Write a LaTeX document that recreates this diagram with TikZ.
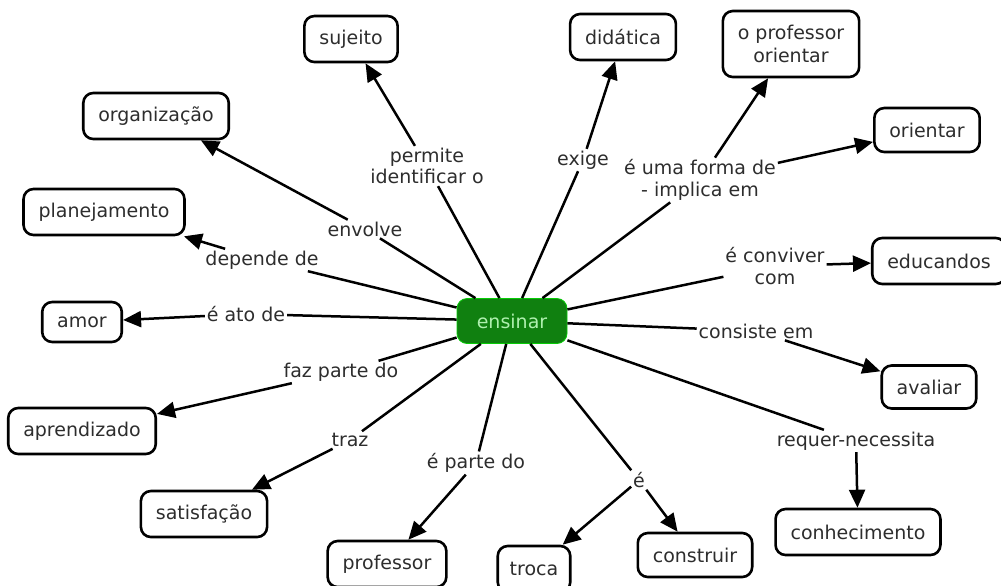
\documentclass[tikz,border=0pt]{standalone}
\usepackage{fontspec}
\setmainfont{DejaVu Sans}
\usetikzlibrary{arrows.meta, positioning}
\definecolor{mapGreen}{RGB}{16,128,16}
\definecolor{mapPale}{RGB}{175,240,175}
\definecolor{mapText}{RGB}{45,45,45}
\tikzset{
    concept/.style={draw, line width=1.3pt, rounded corners=5pt, inner xsep=7.5pt,
        minimum height=23pt, text=mapText, align=center},
    mainConcept/.style={draw=green!60!mapGreen, fill=mapGreen, rounded corners=5pt,
        minimum width=55pt, minimum height=22.5pt, text=mapPale},
    linkText/.style={inner sep=0.8pt, text=mapText, align=center},
    linkLine/.style={line width=1.25pt},
    linkArrow/.style={line width=1.25pt, -{Triangle[length=9pt, width=8pt]}},
}

\begin{document}
\begin{tikzpicture}[x=0.5pt, y=-0.5pt, font=\fontsize{9.5}{10.8}\selectfont]

    \useasboundingbox (0,0) rectangle (1001,585);

    % CENTRE
    \node[mainConcept] (ensinar) at (512,321) {ensinar};

    % CONCEPTS
    \node[concept] (sujeito) at (351,39) {sujeito};
    \node[concept] (didatica) at (623,37) {didática};
    \node[concept, minimum height=33pt] (profOrientar) at (791,44)
        {o professor\\[1pt]orientar};
    \node[concept] (organizacao) at (156,116) {organização};
    \node[concept] (planejamento) at (104,212) {planejamento};
    \node[concept, minimum height=22pt] (orientar) at (927,130) {orientar};
    \node[concept] (educandos) at (939,261) {educandos};
    \node[concept, minimum height=20pt] (amor) at (82,322) {amor};
    \node[concept] (aprendizado) at (82,431) {aprendizado};
    \node[concept] (satisfacao) at (204,514) {satisfação};
    \node[concept] (professor) at (387,564) {professor};
    \node[concept, inner xsep=6pt] (troca) at (534,569) {troca};
    \node[concept, minimum height=22pt] (construir) at (695,555) {construir};
    \node[concept, minimum height=21.5pt] (avaliar) at (929,387) {avaliar};
    \node[concept] (conhecimento) at (858,532) {conhecimento};

    % LINKING PHRASES
    \node[linkText] (lSujeito) at (427,166) {permite\\identificar o};
    \node[linkText] (lDidatica) at (583,160) {exige};
    \node[linkText] (lForma) at (700,180) {é uma forma de\\- implica em};
    \node[linkText] (lOrganizacao) at (365,229) {envolve};
    \node[linkText] (lPlanejamento) at (262,260) {depende de};
    \node[linkText] (lEducandos) at (775,266) {é conviver\\com};
    \node[linkText] (lAmor) at (246,314) {é ato de};
    \node[linkText] (lAprendizado) at (341,372) {faz parte do};
    \node[linkText] (lSatisfacao) at (350,440) {traz};
    \node[linkText] (lProfessor) at (476,463) {é parte do};
    \node[linkText] (lAvaliar) at (756,331) {consiste em};
    \node[linkText] (lConhecimento) at (856,441) {requer-necessita};
    \node[linkText] (lE) at (639,480) {é};

    % LINES FROM THE CENTRE
    \foreach \lbl in {lSujeito, lDidatica, lForma, lOrganizacao, lPlanejamento,
        lEducandos, lAmor, lAprendizado, lSatisfacao, lProfessor, lAvaliar,
        lConhecimento, lE}
        \draw[linkLine] (ensinar) -- (\lbl);

    % ARROWS TO THE CONCEPTS
    \draw[linkArrow] (lSujeito) -- (sujeito);
    \draw[linkArrow] (lDidatica) -- (didatica);
    \draw[linkArrow] (lForma) -- (profOrientar);
    \draw[linkArrow] (lForma) -- (orientar);
    \draw[linkArrow] (lOrganizacao) -- (organizacao);
    \draw[linkArrow] (lPlanejamento) -- (planejamento);
    \draw[linkArrow] (lEducandos) -- (educandos);
    \draw[linkArrow] (lAmor) -- (amor);
    \draw[linkArrow] (lAprendizado) -- (aprendizado);
    \draw[linkArrow] (lSatisfacao) -- (satisfacao);
    \draw[linkArrow] (lProfessor) -- (professor);
    \draw[linkArrow] (lAvaliar) -- (avaliar);
    \draw[linkArrow] (lConhecimento) -- (conhecimento);
    \draw[linkArrow] (lE) -- (troca);
    \draw[linkArrow] (lE) -- (construir);

\end{tikzpicture}
\end{document}
